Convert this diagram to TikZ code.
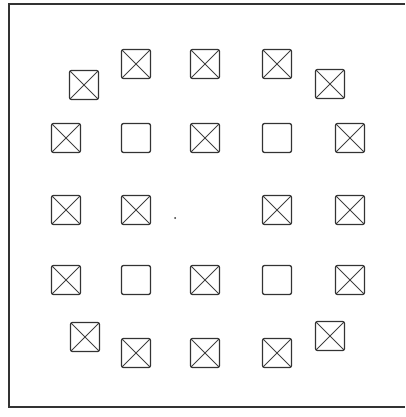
\documentclass[tikz,border=0pt]{standalone}
\begin{document}
\begin{tikzpicture}[x=1pt,y=-1pt,
  box/.style={draw=black!80, line width=1.3pt, minimum size=29pt, inner sep=0pt, rounded corners=2pt},
  xbox/.style={box, path picture={\draw[black!75, line width=1pt]
     (path picture bounding box.north west) -- (path picture bounding box.south east)
     (path picture bounding box.north east) -- (path picture bounding box.south west);}},
  frame/.style={draw=black!80, line width=1.6pt}]
\useasboundingbox (0,0) rectangle (405,417);
\coordinate (tl) at (9,4);
\coordinate (tr) at (405,4);
\coordinate (bl) at (9,407);
\coordinate (br) at (405,407);
\draw[frame] (tr) -- (tl) -- (bl) -- (br);
% row 1
\node[xbox] (a1) at (84,85) {};
\node[xbox] (a2) at (136,64) {};
\node[xbox] (a3) at (205,64) {};
\node[xbox] (a4) at (277,64) {};
\node[xbox] (a5) at (330,84) {};
% row 2
\node[xbox] (b1) at (66,138) {};
\node[box]  (b2) at (136,138) {};
\node[xbox] (b3) at (205,138) {};
\node[box]  (b4) at (277,138) {};
\node[xbox] (b5) at (350,138) {};
% row 3
\node[xbox] (c1) at (66,210) {};
\node[xbox] (c2) at (136,210) {};
\node[xbox] (c4) at (277,210) {};
\node[xbox] (c5) at (350,210) {};
\fill[black!80] (175,218) circle (1pt);
% row 4
\node[xbox] (d1) at (66,280) {};
\node[box]  (d2) at (136,280) {};
\node[xbox] (d3) at (205,280) {};
\node[box]  (d4) at (277,280) {};
\node[xbox] (d5) at (350,280) {};
% row 5
\node[xbox] (e1) at (85,337) {};
\node[xbox] (e2) at (136,353) {};
\node[xbox] (e3) at (205,353) {};
\node[xbox] (e4) at (277,353) {};
\node[xbox] (e5) at (330,336) {};
\end{tikzpicture}
\end{document}
